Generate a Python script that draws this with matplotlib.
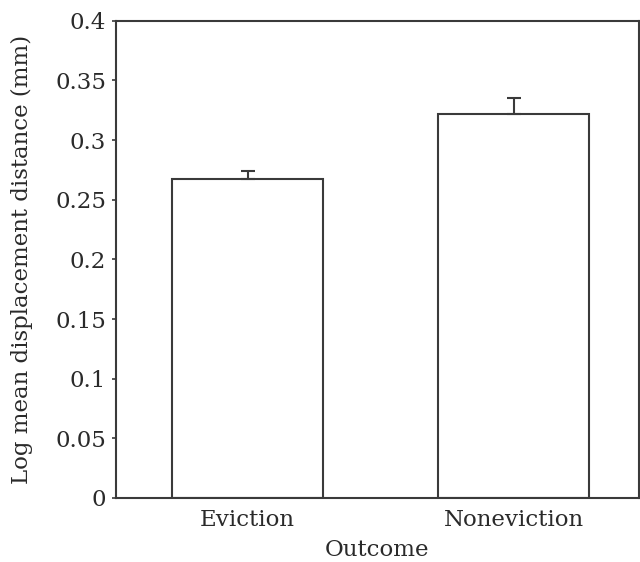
import matplotlib
matplotlib.use("Agg")
import matplotlib.pyplot as plt

LINE = "#3a3a3a"
TEXT = "#2a2a2a"

outcomes = ["Eviction", "Noneviction"]
mean_disp = [0.267, 0.322]
upper_err = [0.007, 0.013]
y_ticks = [0, 0.05, 0.1, 0.15, 0.2, 0.25, 0.3, 0.35, 0.4]
y_tick_labels = ["0", "0.05", "0.1", "0.15", "0.2", "0.25", "0.3", "0.35", "0.4"]

plt.rcParams["font.family"] = ["DejaVu Serif"]
FS = 16.5

fig = plt.figure(figsize=(6.4, 5.62), dpi=100, facecolor="white")
ax = fig.add_axes([0.181, 0.114, 0.817, 0.849])

xpos = range(len(outcomes))
ax.bar(xpos, mean_disp, width=0.57, facecolor="white", edgecolor=LINE,
       linewidth=1.5, zorder=2)
ax.errorbar(xpos, mean_disp, yerr=[[0, 0], upper_err], fmt="none",
            ecolor=LINE, elinewidth=1.5, capsize=4.8, capthick=1.5, zorder=3)

ax.set_xlim(-0.495, 1.47)
ax.set_ylim(0, 0.4)
ax.set_yticks(y_ticks)
ax.set_yticklabels(y_tick_labels)
ax.set_xticks(list(xpos))
ax.set_xticklabels(outcomes)

for s in ax.spines.values():
    s.set_color(LINE)
    s.set_linewidth(1.5)

ax.tick_params(axis="y", direction="out", length=3, width=1.2, color=LINE,
               labelsize=FS, labelcolor=TEXT, pad=4)
ax.tick_params(axis="x", length=0, labelsize=FS, labelcolor=TEXT, pad=8)

ax.set_xlabel("Outcome", fontsize=FS, color=TEXT, labelpad=6)
ax.set_ylabel("Log mean displacement distance (mm)", fontsize=FS, color=TEXT,
              labelpad=16)

fig.savefig("out.png", dpi=100, facecolor="white")
